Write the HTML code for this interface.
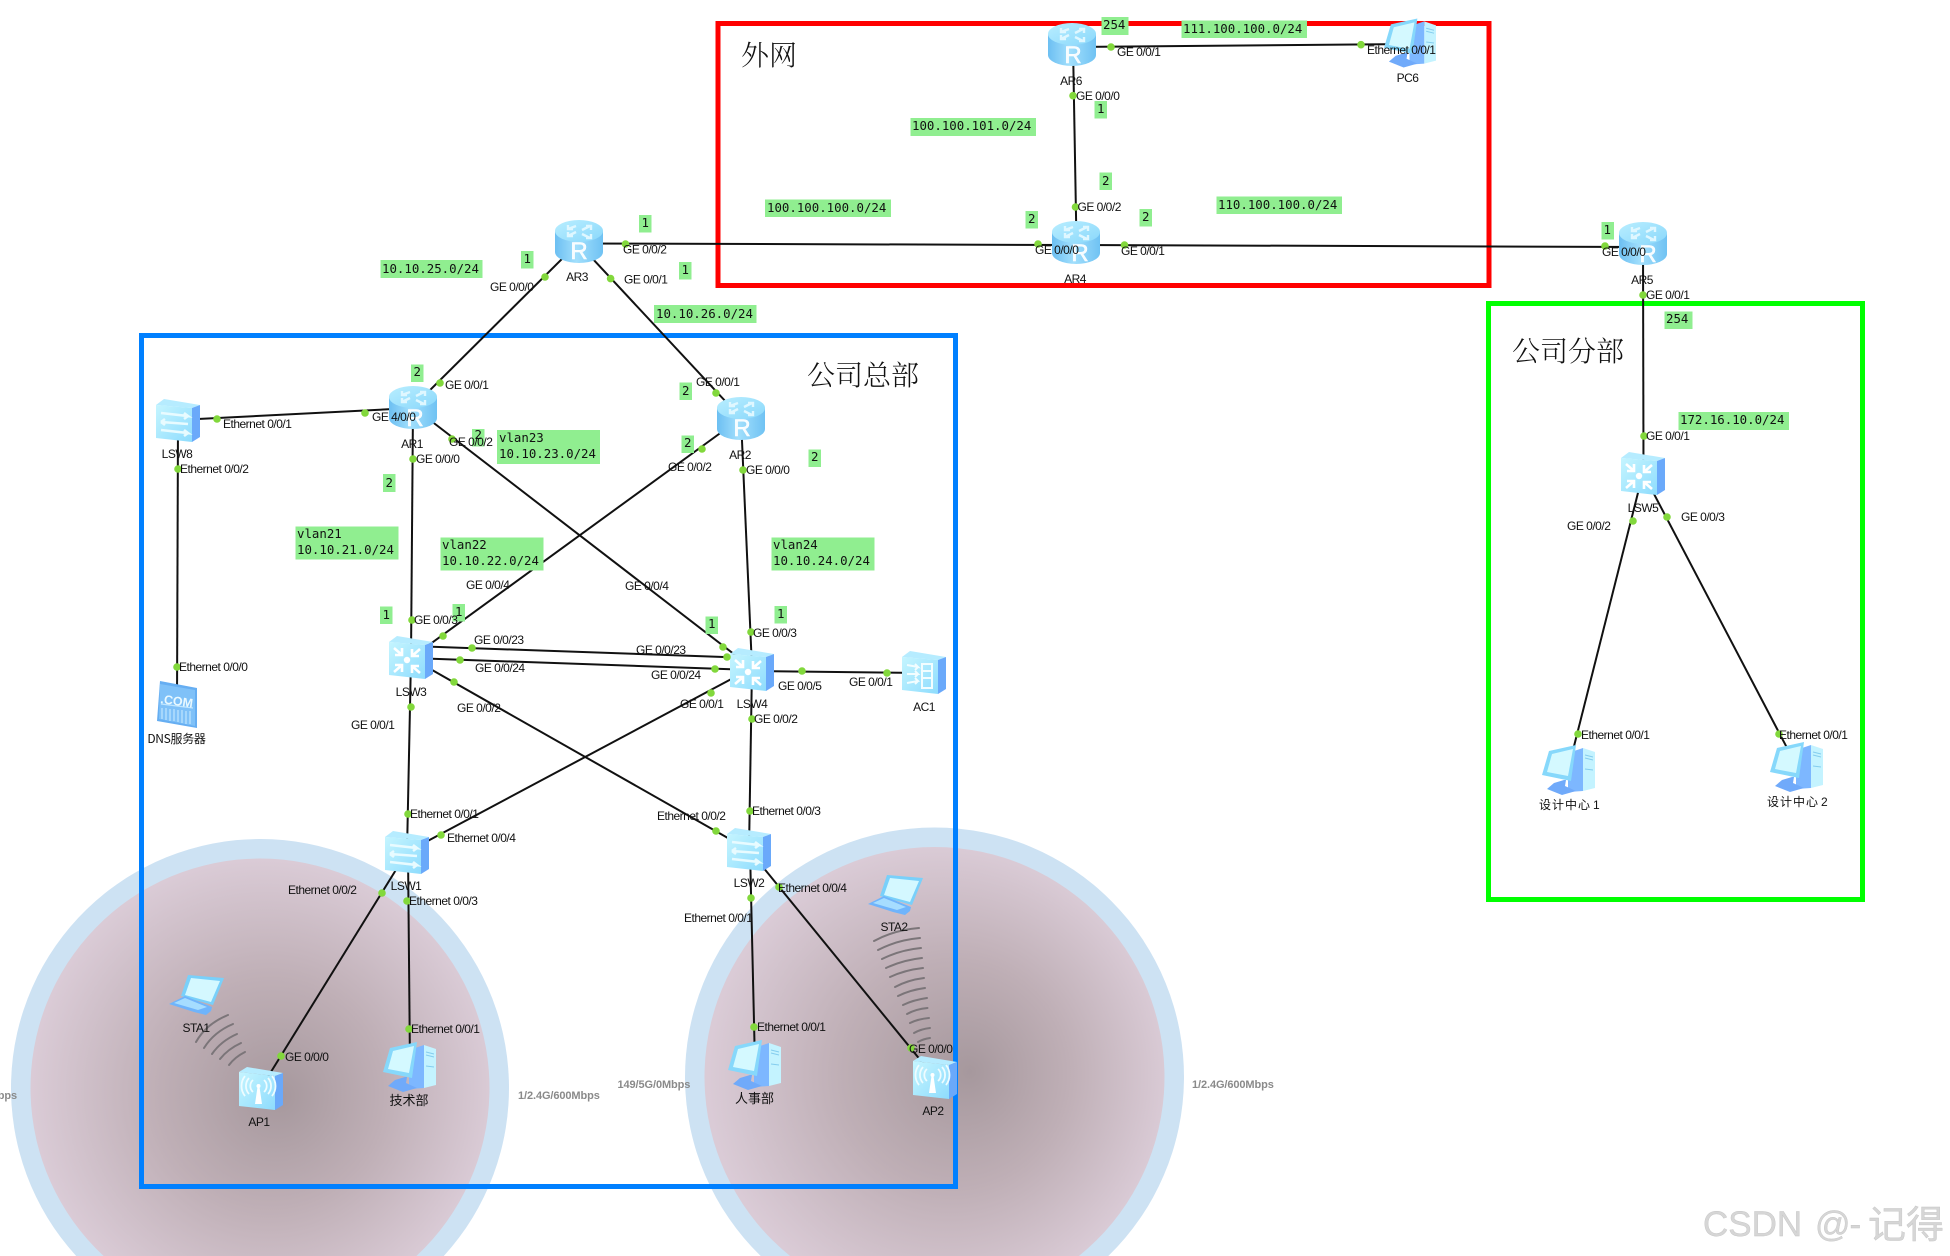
<!DOCTYPE html>
<html><head><meta charset="utf-8"><title>Network topology</title>
<style>
html,body{margin:0;padding:0;background:#fff;width:1950px;height:1256px;overflow:hidden}
svg{display:block}
text{font-family:"Liberation Sans","Noto Sans CJK SC",sans-serif}
.p text,text.p{font-size:12px;letter-spacing:-.5px;fill:#111}
.c{text-anchor:middle}
.m text{font-family:"DejaVu Sans Mono","Liberation Mono",monospace;font-size:12.4px;fill:#111}
.g{fill:#90ee90}
.t{font-family:"Noto Serif CJK SC",serif;font-size:28px;fill:#111;font-weight:300}
.cn{font-family:"Noto Sans CJK SC",sans-serif;font-size:13px;fill:#111}
.w{font-size:11px;font-weight:bold;fill:#8a8a8a;letter-spacing:-.1px}
.r{font-size:24px;fill:#fff;text-anchor:middle;stroke:#fff;stroke-width:.5;fill-opacity:.92}
.l line{stroke:#111;stroke-width:2}
.d circle{fill:#82d83c;r:3.8px}
.a path{fill:none;stroke:#7b7579;stroke-width:2;stroke-linecap:round}
</style></head><body>
<svg width="1950" height="1256" viewBox="0 0 1950 1256" xmlns="http://www.w3.org/2000/svg">
<defs>
<radialGradient id="gl" gradientUnits="userSpaceOnUse" cx="262" cy="1090" r="230" fx="280" fy="1097"><stop offset="0" stop-color="#a6989d"/><stop offset=".5" stop-color="#bfafb6"/><stop offset="1" stop-color="#dacbd6"/></radialGradient>
<radialGradient id="gr" gradientUnits="userSpaceOnUse" cx="938" cy="1077" r="230" fx="970" fy="1072"><stop offset="0" stop-color="#a6989d"/><stop offset=".5" stop-color="#bfafb6"/><stop offset="1" stop-color="#dacbd6"/></radialGradient>
<linearGradient id="rb" x1="0" x2="1" y1="0" y2="0"><stop offset="0" stop-color="#6cbff2"/><stop offset=".45" stop-color="#a2dffc"/><stop offset="1" stop-color="#6fc2f3"/></linearGradient>
<linearGradient id="rt" x1="0" x2="1" y1="0" y2="1"><stop offset="0" stop-color="#b9eeff"/><stop offset="1" stop-color="#8ad8fb"/></linearGradient>
<linearGradient id="ff" x1="0" x2="1" y1="0" y2="1"><stop offset="0" stop-color="#c5f5ff"/><stop offset="1" stop-color="#8edcfd"/></linearGradient>
<symbol id="router" viewBox="0 0 48 43">
<path d="M0 11V32A24 11 0 0 0 48 32V11Z" fill="url(#rb)"/>
<ellipse cx="24" cy="11" rx="24" ry="11" fill="url(#rt)"/>
<g stroke="#dff7ff" stroke-width="2.4" fill="none"><path d="M21 6l-8 3M13 5v4h5M27 10l8-4M36 10V6h-5M21 12l-8 4M13 12v4h5M27 14l8 4M36 14v4h-5"/></g>
</symbol>
<symbol id="l3" viewBox="0 0 44 43">
<polygon points="0,6 8,0 44,6 36,9" fill="#b6ecff"/><polygon points="36,9 44,6 44,38 36,43" fill="#6aa9fa"/><polygon points="0,6 36,9 36,43 0,39" fill="url(#ff)"/>
<circle cx="18" cy="24" r="3.2" fill="#fff"/>
<g stroke="#fff" stroke-width="2.6" fill="none"><path d="M5 12l8 7M13 12v7H6M31 13l-8 7M23 13v7h7M5 36l8-7M13 36v-7H6M31 37l-8-7M23 37v-7h7"/></g>
</symbol>
<symbol id="l2" viewBox="0 0 44 43">
<polygon points="0,6 8,0 44,6 36,9" fill="#b6ecff"/><polygon points="36,9 44,6 44,38 36,43" fill="#6aa9fa"/><polygon points="0,6 36,9 36,43 0,39" fill="url(#ff)"/>
<g stroke="#e8fbff" stroke-width="2.6" fill="none"><path d="M5 14l27 3-4-3M32 17l-4 3"/><path d="M5 23l27 2M5 23l4-3M5 23l4 3"/><path d="M5 31l27 3-4-3M32 34l-4 3"/></g>
</symbol>
<symbol id="ac" viewBox="0 0 44 43">
<polygon points="0,6 8,0 44,6 36,9" fill="#b6ecff"/><polygon points="36,9 44,6 44,38 36,43" fill="#6aa9fa"/><polygon points="0,6 36,9 36,43 0,39" fill="url(#ff)"/>
<g stroke="#f2fdff" stroke-width="2" fill="none"><path d="M5 14l11 2-3-3M16 16l-3 3M5 23h11l-3-3M16 23l-3 3M5 32l11-2-3-3M16 30l-3 3"/><path d="M20 13h10v24H20zM20 20h10M20 27h10"/></g>
</symbol>
<symbol id="ap" viewBox="0 0 44 43">
<polygon points="0,5 8,0 44,6 36,9" fill="#b6ecff"/><polygon points="36,9 44,6 44,38 36,43" fill="#6aa9fa"/><polygon points="0,5 36,9 36,43 0,39" fill="url(#ff)"/>
<polygon points="16,37 23,37 20.5,20 18.5,20" fill="#fff"/><circle cx="19.5" cy="19" r="2" fill="#fff"/>
<g stroke="#eefcff" stroke-width="1.8" fill="none"><path d="M14 13a8 8 0 0 0 0 12M10 11a12 12 0 0 0 0 16M6 9a16 16 0 0 0 0 20M25 13a8 8 0 0 1 0 12M29 11a12 12 0 0 1 0 16M33 9a16 16 0 0 1 0 20"/></g>
</symbol>
<symbol id="dns" viewBox="0 0 40 47">
<polygon points="3,0 40,7 40,47 0,40" fill="#66aef2"/><polygon points="3,3 38,9 38,45 2,38" fill="#7fc1f8"/>
<g stroke="#bfe6ff" stroke-width="1.2"><path d="M4 23l32 4M5 27v11M9 27v12M13 28v12M17 28v12M21 29v12M25 29v13M29 30v13M33 30v13"/></g>
</symbol>
<symbol id="pc" viewBox="0 0 53 50">
<polygon points="41,3 53,7 53,43 41,46" fill="#c4f3ff"/><polygon points="26,8 41,3 41,46 26,47" fill="#7db7ff"/>
<path d="M43 10l8 2M43 13l8 2M43 24l8 1" stroke="#84cdee" stroke-width="1"/>
<polygon points="7,6 34,0 29,36 0,30" fill="#86d8fb"/><polygon points="10,9 31,4 26,31 5,27" fill="#d4f9ff"/>
<polygon points="12,38 22,35 24,35 23,41 34,46 20,50 5,44" fill="#70aafa"/>
</symbol>
<symbol id="lap" viewBox="0 0 55 40">
<polygon points="19,0 55,3 44,30 22,24 12,21" fill="#79d0fa"/><polygon points="22,3 51,6 42,27 16,20" fill="#d4f8ff"/>
<polygon points="0,29 16,21 43,32 42,36 37,40 25,37" fill="#6fb4fb"/><polygon points="5,28 16,23 38,32 29,35" fill="#a6ddff"/>
</symbol>
</defs>

<path d="M76.2 1256A249 249 0 1 1 443.8 1256Z" fill="#cde2f3"/>
<path d="M103.6 1256A229.5 229.5 0 1 1 416.4 1256Z" fill="url(#gl)"/>
<path d="M760.7 1256A249.5 249.5 0 1 1 1108.3 1256Z" fill="#cde2f3"/>
<path d="M790.1 1256A230 230 0 1 1 1078.9 1256Z" fill="url(#gr)"/>

<g fill="none" stroke-width="5">
<rect x="718" y="23.5" width="771" height="262" stroke="#ff0000"/>
<rect x="1488.5" y="303.5" width="374" height="596" stroke="#00ff00"/>
<rect x="141.5" y="335.5" width="814" height="851" stroke="#0080ff"/>
</g>

<g class="a">
<path d="M196 1042Q206 1024 228 1015"/><path d="M204 1048Q214 1032 233 1024"/><path d="M212 1054Q221 1041 237 1034"/><path d="M220 1059Q228 1049 241 1043"/><path d="M229 1065Q235 1057 245 1052"/>
<path d="M874 941Q894 930 919 928"/><path d="M878 950Q897 940 920 938"/><path d="M882 959Q900 950 921 948"/><path d="M886 968Q903 960 922 958"/><path d="M890 977Q905 970 923 968"/><path d="M895 987Q908 980 924 978"/><path d="M898 996Q910 990 925 988"/><path d="M903 1005Q913 1000 927 998"/><path d="M907 1014Q916 1009 927.5 1008"/><path d="M910 1023Q918 1019 929 1018"/><path d="M914 1033Q921 1029 930 1028"/><path d="M918 1042Q923 1039 930 1038"/>
</g>

<g class="l">
<line x1="578" y1="243" x2="413" y2="407"/><line x1="578" y1="243" x2="741" y2="418"/>
<line x1="578" y1="243.5" x2="1076" y2="245"/><line x1="1076" y1="245" x2="1643" y2="247"/>
<line x1="1073" y1="45" x2="1076.5" y2="243"/><line x1="1072" y1="47" x2="1410" y2="44"/>
<line x1="1643" y1="243" x2="1643.5" y2="473"/>
<line x1="1643" y1="473" x2="1568" y2="770"/><line x1="1643" y1="473" x2="1796" y2="765"/>
<line x1="178" y1="420" x2="413" y2="408"/><line x1="178" y1="420" x2="177" y2="705"/>
<line x1="413" y1="407" x2="411" y2="658"/><line x1="413" y1="407" x2="752" y2="668"/>
<line x1="741" y1="418" x2="411" y2="658"/><line x1="741" y1="418" x2="752" y2="668"/>
<line x1="411" y1="646" x2="752" y2="658"/><line x1="411" y1="658" x2="752" y2="670"/>
<line x1="411" y1="658" x2="749" y2="850"/><line x1="411" y1="658" x2="407" y2="852"/>
<line x1="752" y1="668" x2="407" y2="852"/><line x1="752" y1="668" x2="749" y2="850"/>
<line x1="752" y1="671" x2="924" y2="673"/>
<line x1="407" y1="852" x2="261" y2="1088"/><line x1="408" y1="852" x2="410" y2="1067"/>
<line x1="749" y1="850" x2="935" y2="1078"/><line x1="750" y1="850" x2="755" y2="1065"/>
</g>

<!-- green labels -->
<g class="g">
<rect x="1101.5" y="17" width="27" height="18"/><rect x="1181.5" y="20.5" width="125.5" height="17.5"/>
<rect x="910.5" y="118" width="125.5" height="18"/><rect x="1094.5" y="101" width="12.5" height="17.5"/>
<rect x="1099.5" y="172.5" width="12.5" height="17.5"/><rect x="765" y="199.5" width="126" height="17.5"/>
<rect x="1025.5" y="211" width="12.5" height="17.5"/><rect x="1139.5" y="209" width="12.5" height="17.5"/>
<rect x="1216.5" y="196.5" width="125.5" height="17.5"/>
<rect x="380.5" y="260" width="102" height="18"/><rect x="521" y="251" width="12.5" height="17.5"/>
<rect x="639" y="215" width="12.5" height="17.5"/><rect x="679" y="262" width="12.5" height="17.5"/>
<rect x="654" y="305" width="102.5" height="18"/>
<rect x="411" y="364.5" width="12.5" height="17.5"/><rect x="472" y="429" width="12.5" height="17.5"/>
<rect x="497" y="430" width="103" height="34"/><rect x="383" y="474" width="12.5" height="18"/>
<rect x="295.5" y="526.5" width="103" height="33"/><rect x="440.5" y="537.5" width="103" height="33"/>
<rect x="380" y="606.5" width="12.5" height="17.5"/><rect x="452.5" y="604" width="12.5" height="17.5"/>
<rect x="679.5" y="382.5" width="12.5" height="17.5"/><rect x="681.5" y="435.5" width="12.5" height="17.5"/>
<rect x="808.5" y="449.5" width="12.5" height="17.5"/><rect x="771.5" y="537.5" width="103" height="33"/>
<rect x="774.5" y="606" width="12.5" height="17.5"/><rect x="705.5" y="616.5" width="12.5" height="17.5"/>
<rect x="1601.5" y="222" width="12.5" height="17.5"/><rect x="1664.5" y="311.5" width="28" height="17.5"/>
<rect x="1678.5" y="412" width="110.5" height="18"/>
</g>
<g class="m">
<text x="1103" y="29">254</text><text x="1183" y="33">111.100.100.0/24</text>
<text x="912" y="130">100.100.101.0/24</text><text x="1097" y="113">1</text>
<text x="1102" y="185">2</text><text x="767" y="212">100.100.100.0/24</text>
<text x="1028" y="223">2</text><text x="1142" y="221">2</text>
<text x="1218" y="209">110.100.100.0/24</text>
<text x="382" y="273">10.10.25.0/24</text><text x="523.5" y="263">1</text>
<text x="641.5" y="227">1</text><text x="681.5" y="274">1</text>
<text x="656" y="318">10.10.26.0/24</text>
<text x="413.5" y="376">2</text><text x="474.5" y="439">2</text>
<text x="499" y="442">vlan23</text><text x="499" y="458">10.10.23.0/24</text>
<text x="385.5" y="487">2</text>
<text x="297" y="538">vlan21</text><text x="297" y="554">10.10.21.0/24</text>
<text x="442" y="549">vlan22</text><text x="442" y="565">10.10.22.0/24</text>
<text x="382.5" y="619">1</text><text x="455" y="616">1</text>
<text x="682" y="395">2</text><text x="684" y="447">2</text><text x="811" y="461">2</text>
<text x="773" y="549">vlan24</text><text x="773" y="565">10.10.24.0/24</text>
<text x="777" y="618">1</text><text x="708" y="628">1</text>
<text x="1603.5" y="234">1</text><text x="1666" y="323">254</text>
<text x="1680" y="424">172.16.10.0/24</text>
</g>

<!-- icons -->
<use href="#router" x="555" y="220" width="48" height="43"/><text class="r" x="579" y="259">R</text>
<use href="#router" x="1048" y="23" width="48" height="43"/><text class="r" x="1073" y="63">R</text>
<use href="#router" x="1052" y="221" width="48" height="43"/><text class="r" x="1080" y="261">R</text>
<use href="#router" x="1619" y="222" width="48" height="43"/><text class="r" x="1648" y="262">R</text>
<use href="#router" x="389" y="386" width="48" height="43"/><text class="r" x="415" y="426">R</text>
<use href="#router" x="717" y="397" width="48" height="43"/><text class="r" x="742" y="436">R</text>
<use href="#l2" x="156" y="399" width="44" height="43"/>
<use href="#dns" x="157" y="681" width="40" height="47"/><text x="160" y="703" font-size="12.5" font-weight="bold" fill="#e9f9ff" transform="rotate(8 160 703)">.COM</text>
<use href="#l3" x="389" y="636" width="44" height="43"/>
<use href="#l3" x="730" y="648" width="44" height="43"/>
<use href="#l3" x="1621" y="452" width="44" height="43"/>
<use href="#ac" x="902" y="651" width="44" height="43"/>
<use href="#l2" x="385" y="831" width="44" height="43"/>
<use href="#l2" x="727" y="828" width="44" height="43"/>
<use href="#ap" x="239" y="1067" width="44" height="43"/>
<use href="#ap" x="913" y="1056" width="44" height="43"/>
<use href="#pc" x="1384" y="18" width="52" height="50"/>
<use href="#pc" x="1542" y="745" width="53" height="50"/>
<use href="#pc" x="1770" y="742" width="53" height="50"/>
<use href="#pc" x="383" y="1042" width="53" height="50"/>
<use href="#pc" x="728" y="1040" width="53" height="50"/>
<use href="#lap" x="169" y="975" width="55" height="40"/>
<use href="#lap" x="868" y="875" width="55" height="40"/>

<g class="d">
<circle cx="1111" cy="47"/><circle cx="1361" cy="44.7"/><circle cx="1073" cy="95.7"/><circle cx="1075.5" cy="207"/><circle cx="1038" cy="244"/><circle cx="1124.5" cy="245"/>
<circle cx="545" cy="277"/><circle cx="625.5" cy="244"/><circle cx="610.6" cy="278.6"/>
<circle cx="440" cy="383"/><circle cx="365" cy="413"/><circle cx="217" cy="419"/><circle cx="178" cy="469"/><circle cx="452" cy="439"/><circle cx="413" cy="459"/><circle cx="412" cy="620"/><circle cx="443" cy="636"/><circle cx="472" cy="648"/><circle cx="460" cy="660"/><circle cx="454" cy="682"/><circle cx="411" cy="707"/><circle cx="177" cy="667"/>
<circle cx="716" cy="393"/><circle cx="702" cy="449"/><circle cx="743" cy="470"/><circle cx="751" cy="632"/><circle cx="723" cy="647"/><circle cx="727" cy="657"/><circle cx="715" cy="669"/><circle cx="711" cy="693"/><circle cx="802" cy="671"/><circle cx="887" cy="673"/><circle cx="752" cy="719"/>
<circle cx="408" cy="814"/><circle cx="441" cy="835"/><circle cx="382" cy="893"/><circle cx="407" cy="901"/><circle cx="409" cy="1029"/><circle cx="281" cy="1056"/>
<circle cx="750" cy="811"/><circle cx="716" cy="831"/><circle cx="751" cy="898"/><circle cx="779" cy="887"/><circle cx="754" cy="1027"/><circle cx="911" cy="1048"/>
<circle cx="1605" cy="246"/><circle cx="1643" cy="295"/><circle cx="1644" cy="436"/><circle cx="1633" cy="521"/><circle cx="1667" cy="517"/>
<circle cx="1578" cy="734"/><circle cx="1779" cy="734"/>
</g>

<!-- port labels -->
<g class="p">
<text x="1117" y="56">GE 0/0/1</text><text x="1367" y="54">Ethernet 0/0/1</text>
<text x="1076" y="100">GE 0/0/0</text><text x="1077.5" y="211">GE 0/0/2</text>
<text x="1035" y="254">GE 0/0/0</text><text x="1121" y="255">GE 0/0/1</text>
<text x="623" y="253.5">GE 0/0/2</text><text x="624" y="283.5">GE 0/0/1</text><text x="490" y="291">GE 0/0/0</text>
<text x="445" y="389">GE 0/0/1</text><text x="223" y="428">Ethernet 0/0/1</text><text x="372" y="421">GE 4/0/0</text>
<text x="449" y="446">GE 0/0/2</text><text x="416" y="463">GE 0/0/0</text><text x="180" y="473">Ethernet 0/0/2</text>
<text x="466" y="589">GE 0/0/4</text><text x="414" y="624">GE 0/0/3</text><text x="474" y="644">GE 0/0/23</text>
<text x="475" y="672">GE 0/0/24</text><text x="179" y="671">Ethernet 0/0/0</text><text x="457" y="712">GE 0/0/2</text><text x="351" y="729">GE 0/0/1</text>
<text x="696" y="386">GE 0/0/1</text><text x="668" y="471">GE 0/0/2</text><text x="746" y="474">GE 0/0/0</text>
<text x="625" y="590">GE 0/0/4</text><text x="753" y="637">GE 0/0/3</text><text x="636" y="654">GE 0/0/23</text>
<text x="651" y="679">GE 0/0/24</text><text x="778" y="690">GE 0/0/5</text><text x="849" y="686">GE 0/0/1</text>
<text x="680" y="708">GE 0/0/1</text><text x="754" y="723">GE 0/0/2</text>
<text x="410" y="818">Ethernet 0/0/1</text><text x="447" y="842">Ethernet 0/0/4</text><text x="288" y="894">Ethernet 0/0/2</text>
<text x="409" y="905">Ethernet 0/0/3</text><text x="411" y="1033">Ethernet 0/0/1</text><text x="285" y="1061">GE 0/0/0</text>
<text x="752" y="815">Ethernet 0/0/3</text><text x="657" y="820">Ethernet 0/0/2</text><text x="778" y="892">Ethernet 0/0/4</text>
<text x="684" y="922">Ethernet 0/0/1</text><text x="757" y="1031">Ethernet 0/0/1</text><text x="909" y="1053">GE 0/0/0</text>
<text x="1602" y="256">GE 0/0/0</text><text x="1646" y="299">GE 0/0/1</text><text x="1646" y="440">GE 0/0/1</text>
<text x="1681" y="521">GE 0/0/3</text><text x="1567" y="530">GE 0/0/2</text>
<text x="1581" y="739">Ethernet 0/0/1</text><text x="1779" y="739">Ethernet 0/0/1</text>
<!-- node names -->
<g class="c">
<text x="1071" y="85">AR6</text><text x="1407.5" y="82">PC6</text><text x="1075" y="283">AR4</text><text x="577" y="281">AR3</text>
<text x="1642" y="284">AR5</text><text x="412" y="448">AR1</text><text x="740" y="459">AR2</text><text x="177" y="458">LSW8</text>
<text x="411" y="696">LSW3</text><text x="752" y="708">LSW4</text><text x="924" y="711">AC1</text><text x="1643" y="512">LSW5</text>
<text x="406" y="890">LSW1</text><text x="749" y="887">LSW2</text><text x="196" y="1032">STA1</text><text x="894" y="931">STA2</text>
<text x="259" y="1126">AP1</text><text x="933" y="1115">AP2</text>
</g>
</g>
<text class="cn c" x="176.5" y="743" style="letter-spacing:-.3px;font-size:12px">DNS服务器</text>
<text class="cn c" x="409" y="1105">技术部</text>
<text class="cn c" x="754.5" y="1103">人事部</text>
<text class="cn" x="1539" y="809" style="letter-spacing:1px;font-size:12px">设计中心</text><text class="p" x="1593" y="809">1</text>
<text class="cn" x="1767" y="806" style="letter-spacing:1px;font-size:12px">设计中心</text><text class="p" x="1821" y="806">2</text>

<text class="t" x="741" y="65">外网</text>
<text class="t" x="807" y="385">公司总部</text>
<text class="t" x="1512" y="361">公司分部</text>

<text class="w" x="17" y="1099" text-anchor="end">1/2.4G/600Mbps</text>
<text class="w" x="518" y="1099">1/2.4G/600Mbps</text>
<text class="w" x="617.5" y="1088">149/5G/0Mbps</text>
<text class="w" x="1192" y="1088">1/2.4G/600Mbps</text>

<g font-size="35" fill="#d6d6d6" stroke="#c4c4c4" stroke-width=".4">
<text x="1703" y="1236">CSDN</text><text x="1815" y="1236" style="letter-spacing:-1px">@-</text>
<text x="1868" y="1238" font-size="38" style="font-family:'Noto Sans CJK SC',sans-serif">记得</text>
</g>
</svg>
</body></html>
